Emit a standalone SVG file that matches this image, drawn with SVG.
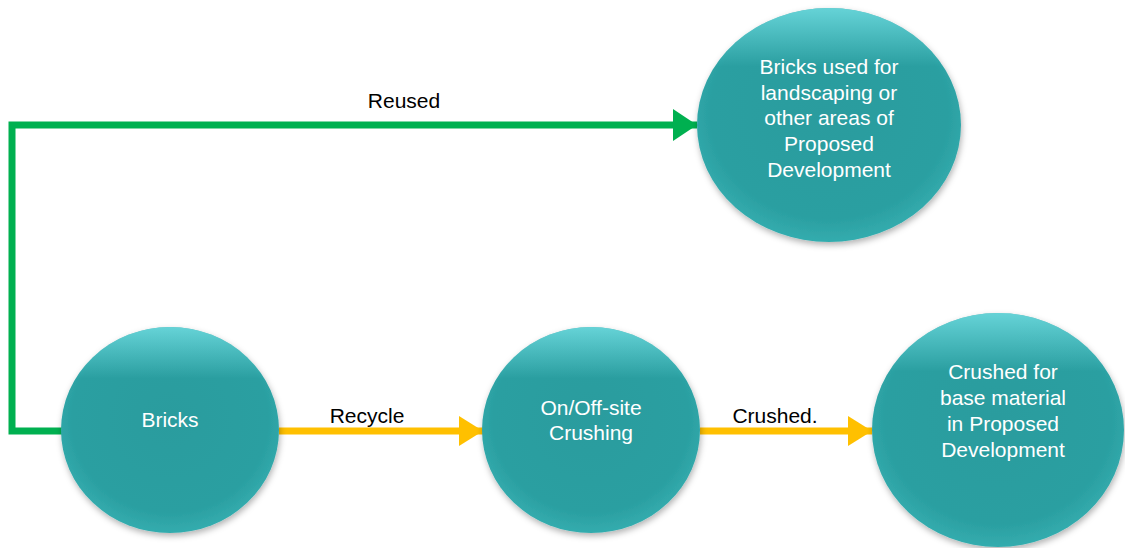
<svg xmlns="http://www.w3.org/2000/svg" width="1125" height="548" viewBox="0 0 1125 548">
<style>
.node{fill:url(#teal);filter:url(#sh)}
.nt{font-family:"Liberation Sans",Arial,sans-serif;font-size:21px;fill:#ffffff;text-anchor:middle}
.lbl{font-family:"Liberation Sans",Arial,sans-serif;font-size:21px;fill:#000000;text-anchor:middle}
.g{stroke:#00B050;stroke-width:7;fill:none}
.y{stroke:#FFC000;stroke-width:7;fill:none}
</style>
<defs>
<radialGradient id="teal" cx="0.5" cy="0.45" r="0.6">
<stop offset="0" stop-color="#2A9C9E"/>
<stop offset="0.75" stop-color="#2B9FA1"/>
<stop offset="1" stop-color="#37B3B5"/>
</radialGradient>
<linearGradient id="hl" x1="0" y1="0" x2="0" y2="1">
<stop offset="0" stop-color="#7FE9EE" stop-opacity="0.7"/>
<stop offset="0.25" stop-color="#7FE9EE" stop-opacity="0"/>
</linearGradient>
<filter id="sh" x="-20%" y="-20%" width="140%" height="140%">
<feDropShadow dx="1" dy="3" stdDeviation="3" flood-color="#000" flood-opacity="0.3"/>
</filter>
<marker id="ag" markerUnits="userSpaceOnUse" markerWidth="24" markerHeight="32" refX="24" refY="16" orient="auto"><path d="M0,0 L24,16 L0,32 Z" fill="#00B050"/></marker>
<marker id="ay" markerUnits="userSpaceOnUse" markerWidth="24" markerHeight="30" refX="24" refY="15" orient="auto"><path d="M0,0 L24,15 L0,30 Z" fill="#FFC000"/></marker>
</defs>
<g id="connectors">
<path class="g" d="M63,431 H12 V125 H697" marker-end="url(#ag)"/>
<path class="y" d="M279,431 H483" marker-end="url(#ay)"/>
<path class="y" d="M700,431 H872" marker-end="url(#ay)"/>
<text class="lbl" x="404" y="108">Reused</text>
<text class="lbl" x="367" y="423">Recycle</text>
<text class="lbl" x="775" y="423">Crushed.</text>
</g>
<g id="node-reuse">
<ellipse class="node" cx="829" cy="125" rx="132" ry="117"/>
<ellipse cx="829" cy="125" rx="132" ry="117" fill="url(#hl)"/>
<text class="nt" x="829" y="74">Bricks used for</text>
<text class="nt" x="829" y="100">landscaping or</text>
<text class="nt" x="829" y="125">other areas of</text>
<text class="nt" x="829" y="151">Proposed</text>
<text class="nt" x="829" y="177">Development</text>
</g>
<g id="node-bricks">
<ellipse class="node" cx="170" cy="430" rx="109" ry="103"/>
<ellipse cx="170" cy="430" rx="109" ry="103" fill="url(#hl)"/>
<text class="nt" x="170" y="427">Bricks</text>
</g>
<g id="node-crushing">
<ellipse class="node" cx="591" cy="430" rx="109" ry="103"/>
<ellipse cx="591" cy="430" rx="109" ry="103" fill="url(#hl)"/>
<text class="nt" x="591" y="415">On/Off-site</text>
<text class="nt" x="591" y="440">Crushing</text>
</g>
<g id="node-base">
<ellipse class="node" cx="998" cy="430" rx="126" ry="117"/>
<ellipse cx="998" cy="430" rx="126" ry="117" fill="url(#hl)"/>
<text class="nt" x="1003" y="379">Crushed for</text>
<text class="nt" x="1003" y="405">base material</text>
<text class="nt" x="1003" y="431">in Proposed</text>
<text class="nt" x="1003" y="457">Development</text>
</g>
</svg>
